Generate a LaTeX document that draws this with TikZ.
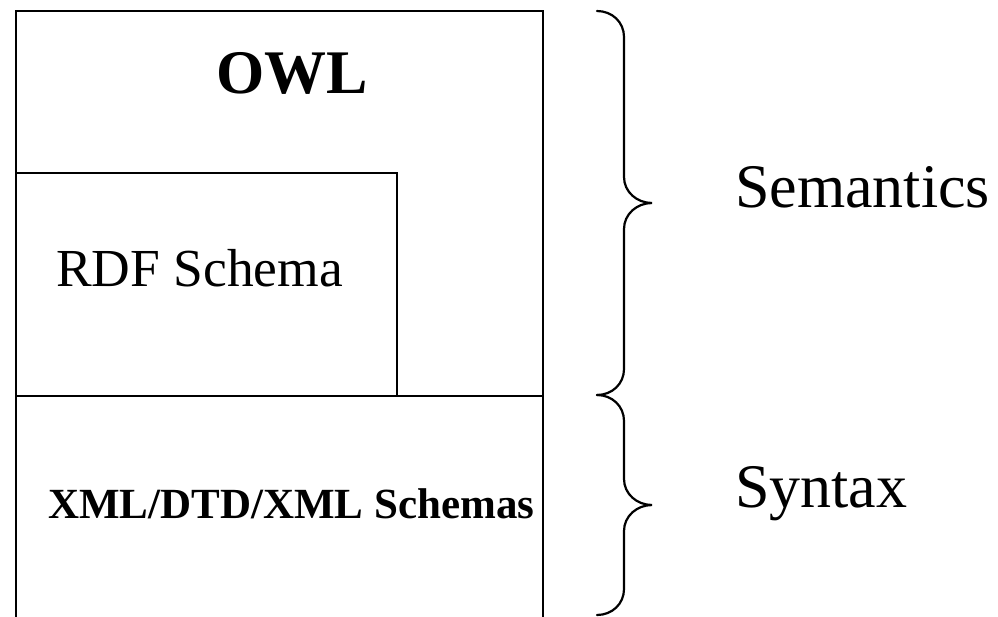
\documentclass[tikz,border=0pt]{standalone}
\usepackage{fontspec}
\setmainfont{Liberation Serif}
\begin{document}
\begin{tikzpicture}[x=1pt,y=-1pt,
  frame/.style={line width=2.4pt,draw=black},
  bracepath/.style={line width=2.2pt,draw=black,line cap=round},
  lbl/.style={inner sep=0pt,anchor=base west}]
\useasboundingbox (0,0) rectangle (998,616);
% outer stack box (bottom edge runs past the page)
\draw[frame] (16,630) -- (16,11) -- (543,11) -- (543,630);
% divider between semantic and syntactic layers
\draw[frame] (16,396) -- (543,396);
% RDF Schema box
\draw[frame] (16,173) -- (397,173) -- (397,396);
% labels
\node[inner sep=0pt,anchor=base] (owl) at (292.5,93) {\fontsize{62}{62}\selectfont\bfseries OWL};
\node[lbl] (rdfs) at (56,286) {\fontsize{53.5}{53.5}\selectfont RDF Schema};
\node[lbl] (xml) at (48,518) {\fontsize{43}{43}\selectfont\bfseries XML/DTD/XML Schemas};
\node[lbl] (sem) at (735,207) {\fontsize{62}{62}\selectfont Semantics};
\node[lbl] (syn) at (735,507) {\fontsize{62}{62}\selectfont Syntax};
% braces
\draw[bracepath] (597,11) .. controls (612,11) and (624,22) .. (624,37)
  -- (624,177) .. controls (624,192) and (637,203) .. (652,203)
  .. controls (637,203) and (624,214) .. (624,229)
  -- (624,369) .. controls (624,384) and (612,395) .. (597,395);
\draw[bracepath] (597,395) .. controls (612,395) and (624,406) .. (624,421)
  -- (624,479) .. controls (624,494) and (637,505) .. (652,505)
  .. controls (637,505) and (624,516) .. (624,531)
  -- (624,589) .. controls (624,604) and (612,615) .. (597,615);
\end{tikzpicture}
\end{document}
